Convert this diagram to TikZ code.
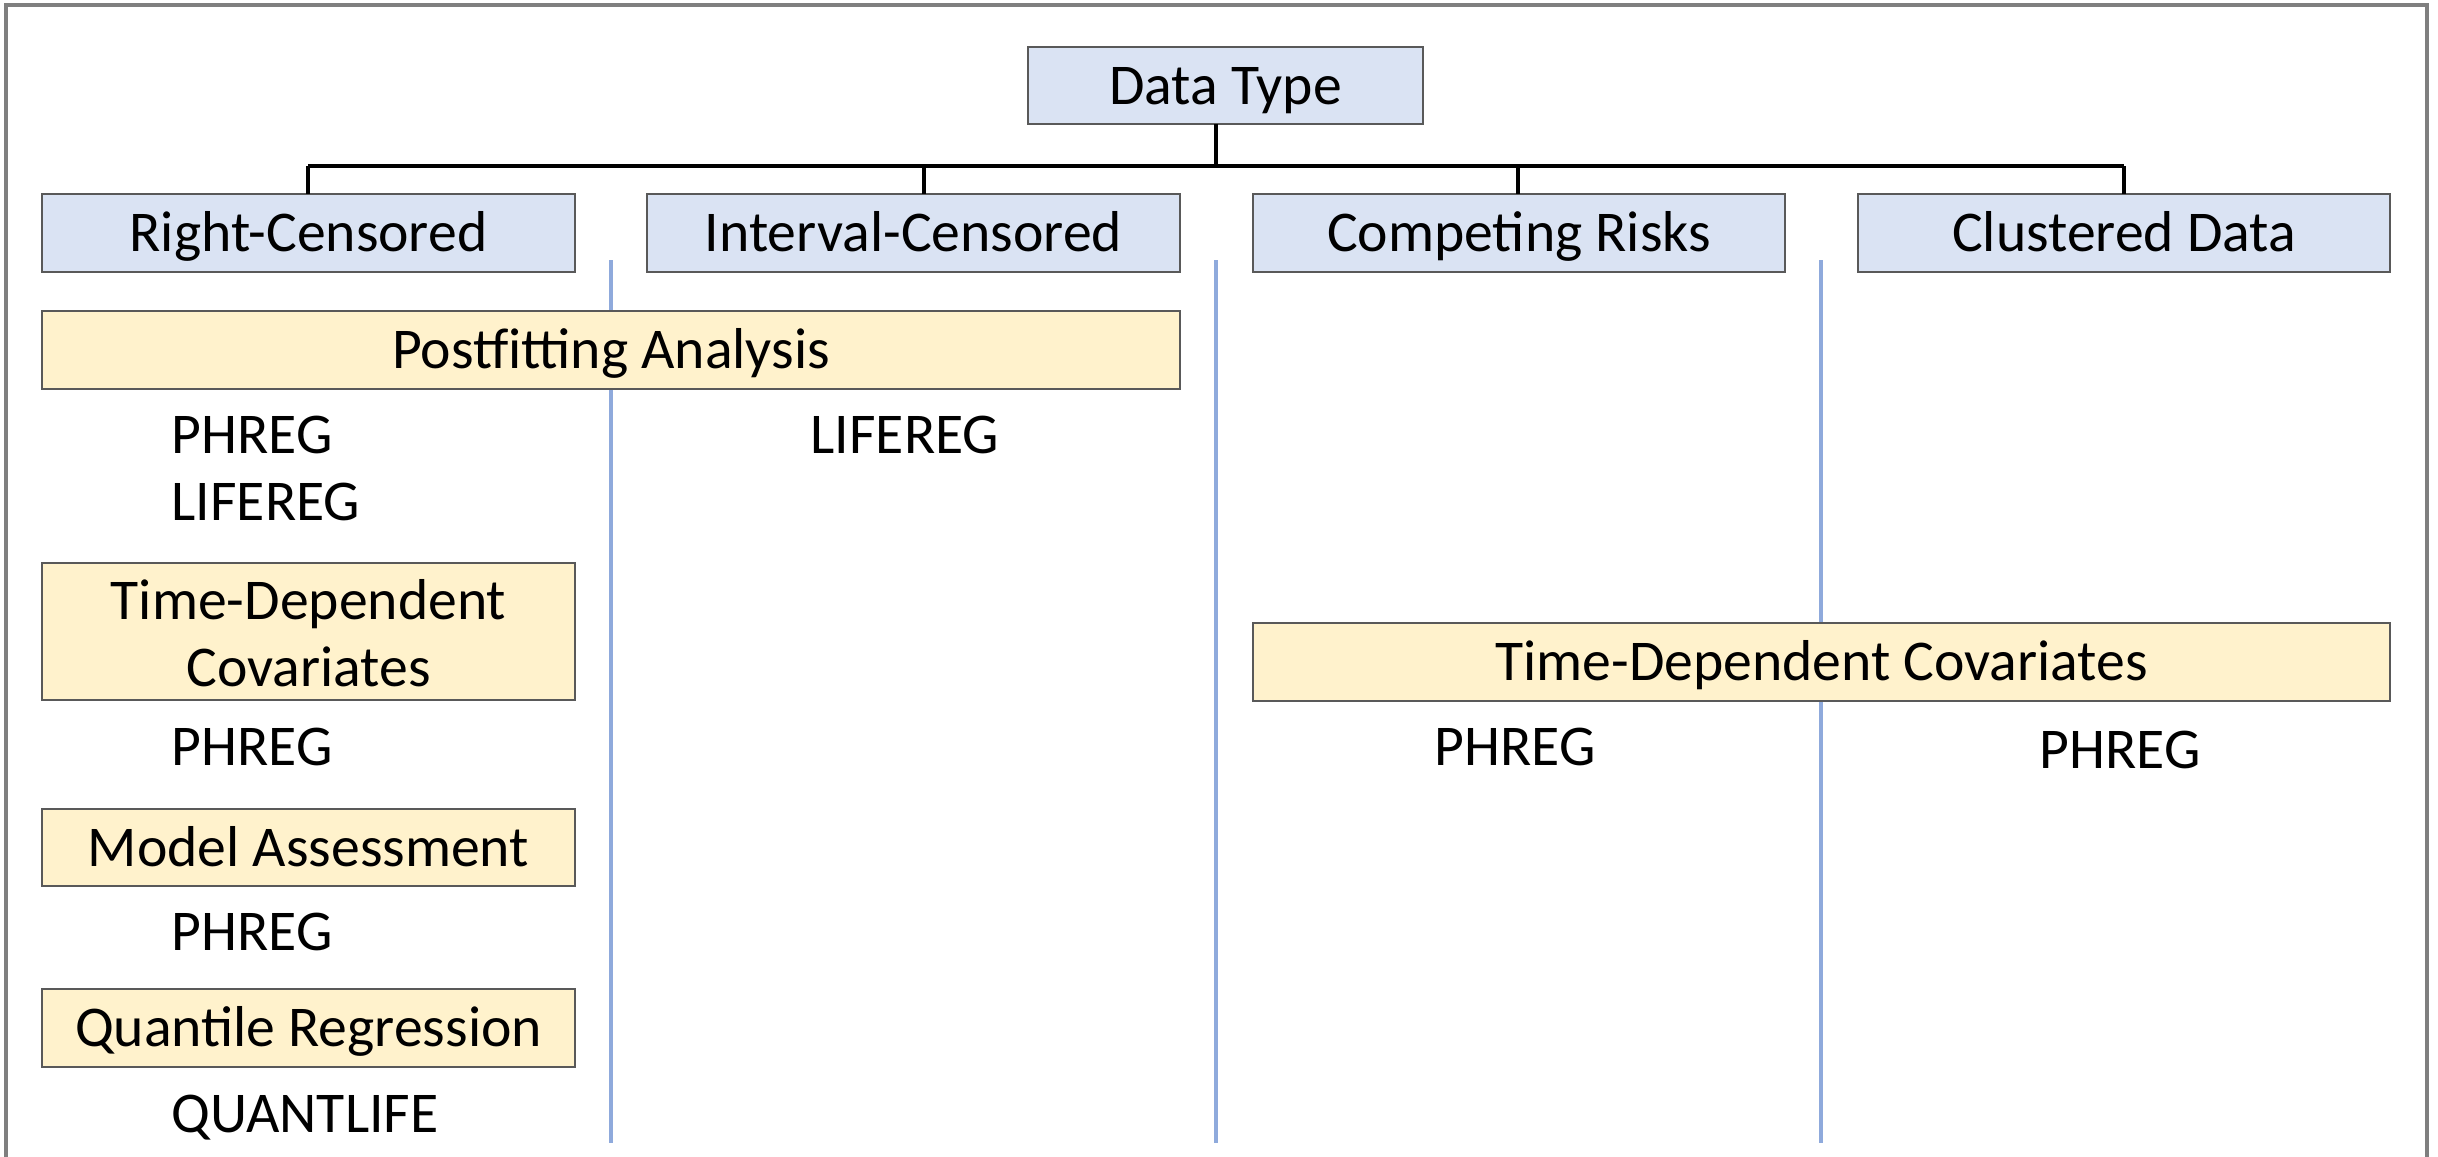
\documentclass[tikz,border=0pt]{standalone}
\usepackage{fontspec}
\setmainfont{Carlito}
\definecolor{hdrfill}{HTML}{DAE3F3}
\definecolor{topicfill}{HTML}{FFF2CC}
\definecolor{boxline}{HTML}{595959}
\definecolor{sepline}{HTML}{8FAADC}
\definecolor{framegray}{HTML}{7F7F7F}
\begin{document}
\begin{tikzpicture}[x=0.01cm,y=-0.01cm,
  every node/.style={font=\fontsize{16.4}{19.2}\selectfont, inner sep=0pt},
  lbl/.style={text height=12.9pt, text depth=2.1pt},
  hdr/.style={draw=boxline, line width=0.6pt, fill=hdrfill},
  topic/.style={draw=boxline, line width=0.6pt, fill=topicfill},
  proc/.style={lbl, anchor=west},
  procc/.style={lbl},
  tree/.style={line width=1.1pt, black},
  sep/.style={line width=1.2pt, sepline}]
\useasboundingbox (0,0) rectangle (2438,1157);
% outer frame, open at the bottom
\draw[framegray, line width=1pt] (6,1160) -- (6,5) -- (2427,5) -- (2427,1160);

% column separators
\coordinate (s1t) at (611,260);  \coordinate (s1b) at (611,1143);
\coordinate (s2t) at (1216,260); \coordinate (s2b) at (1216,1143);
\coordinate (s3t) at (1821,260); \coordinate (s3b) at (1821,1143);
\draw[sep] (s1t) -- (s1b);
\draw[sep] (s2t) -- (s2b);
\draw[sep] (s3t) -- (s3b);

% root and data types
\path[hdr] (1028,47) rectangle (1423,124);
\node[lbl] (root) at (1225.5,85.5) {Data Type};
\coordinate (rootb) at (1216,124);
\coordinate (bus) at (1216,166);

\path[hdr] (42,194) rectangle (575,272);
\node[lbl] (rc) at (308.5,233) {Right-Censored};
\path[hdr] (647,194) rectangle (1180,272);
\node[lbl] (ic) at (913.5,233) {Interval-Censored};
\path[hdr] (1253,194) rectangle (1785,272);
\node[lbl] (cr) at (1519,233) {Competing Risks};
\path[hdr] (1858,194) rectangle (2390,272);
\node[lbl] (cd) at (2124,233) {Clustered Data};

\coordinate (rct) at (308,194);  \coordinate (rcb) at (308,166);
\coordinate (ict) at (924,194);  \coordinate (icb) at (924,166);
\coordinate (crt) at (1518,194); \coordinate (crb) at (1518,166);
\coordinate (cdt) at (2124,194); \coordinate (cdb) at (2124,166);
\draw[tree] (rootb) -- (bus);
\draw[tree] (rcb) -- (cdb);
\draw[tree] (rcb) -- (rct);
\draw[tree] (icb) -- (ict);
\draw[tree] (crb) -- (crt);
\draw[tree] (cdb) -- (cdt);

% topics
\path[topic] (42,311) rectangle (1180,389);
\node[lbl] (pfa) at (611,350) {Postfitting Analysis};
\path[topic] (42,563) rectangle (575,700);
\node[align=center] (tdc1) at (308.5,633) {Time-Dependent\\Covariates};
\path[topic] (42,809) rectangle (575,886);
\node[lbl] (ma) at (308.5,847.5) {Model Assessment};
\path[topic] (42,989) rectangle (575,1067);
\node[lbl] (qr) at (308.5,1028) {Quantile Regression};
\path[topic] (1253,623) rectangle (2390,701);
\node[lbl] (tdc2) at (1821.5,662) {Time-Dependent Covariates};

% procedures
\node[proc] (p1) at (171,435) {PHREG};
\node[proc] (l1) at (171,502) {LIFEREG};
\node[procc] (l2) at (905,435) {LIFEREG};
\node[proc] (p2) at (171,746) {PHREG};
\node[proc] (p3) at (171,931) {PHREG};
\node[proc] (q1) at (171,1113) {QUANTLIFE};
\node[procc] (p4) at (1515,746) {PHREG};
\node[procc] (p5) at (2120,750) {PHREG};
\end{tikzpicture}
\end{document}
